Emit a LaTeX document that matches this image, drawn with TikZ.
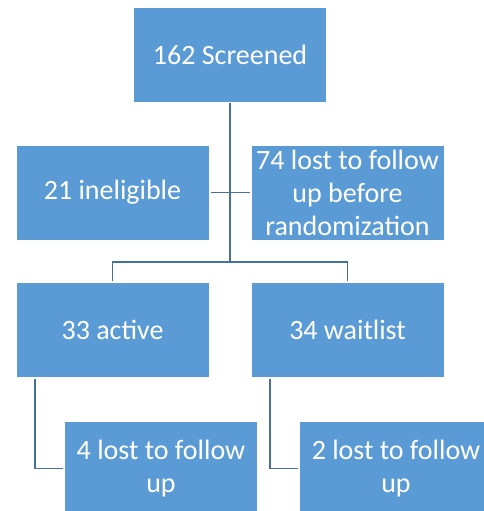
\documentclass[tikz,border=0pt]{standalone}
\usepackage{fontspec}
\setmainfont{Carlito}
\usetikzlibrary{calc}
\definecolor{boxblue}{HTML}{5B9BD5}
\definecolor{lineblue}{HTML}{41719C}
\tikzset{
  box/.style={rectangle, fill=boxblue, draw=white, line width=0.6bp, text=white,
    minimum width=193bp, minimum height=95bp, inner sep=0pt, outer sep=1.5bp,
    align=center, font=\fontsize{28bp}{33bp}\selectfont},
  conn/.style={draw=lineblue, line width=1.6bp}
}
\begin{document}
\begin{tikzpicture}[x=1bp, y=-1bp]
\useasboundingbox (0,0) rectangle (484,511);
\clip (0,0) rectangle (484,511);
\node[box] (top) at (230,54.5) {162 Screened};
\node[box] (inel) at (112.5,192.5) {21 ineligible};
\node[box] (lost74) at (347.5,192.5) {74 lost to follow\\up before\\randomization};
\node[box] (active) at (112.5,330) {33 active};
\node[box] (wait) at (347.5,330) {34 waitlist};
\node[box] (lost4) at (161,468.5) {4 lost to follow\\up};
\node[box] (lost2) at (396,468.5) {2 lost to follow\\up};
\coordinate (split) at (230,262);
\coordinate (aleft) at (35,0);
\coordinate (wleft) at (270,0);
\draw[conn] (top.south) -- (split);
\draw[conn] (inel.east) -- (lost74.west);
\draw[conn] (split) -| (active.north);
\draw[conn] (split) -| (wait.north);
\draw[conn] (aleft |- active.south) |- (lost4.west);
\draw[conn] (wleft |- wait.south) |- (lost2.west);
\end{tikzpicture}
\end{document}
